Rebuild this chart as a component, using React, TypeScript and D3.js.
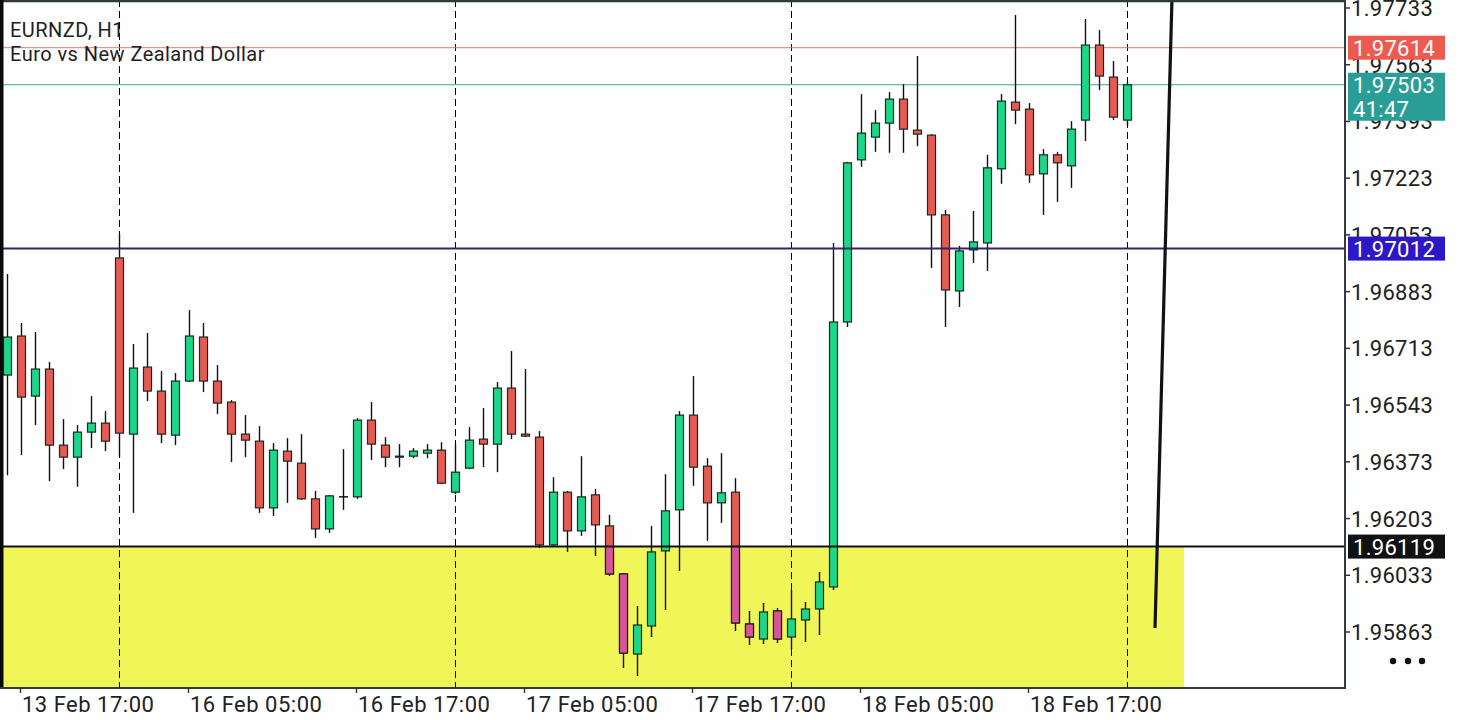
import React from "react";
import * as d3 from "d3";

const opens = [1.96633,1.96750,1.96570,1.96651,1.96423,1.96387,1.96462,1.96489,1.96984,1.96456,1.96657,1.96585,1.96453,1.96615,1.96747,1.96615,1.96552,1.96456,1.96435,1.96235,1.96405,1.96369,1.96262,1.96172,1.96268,1.96268,1.96498,1.96423,1.96390,1.96390,1.96399,1.96408,1.96282,1.96354,1.96441,1.96426,1.96594,1.96456,1.96447,1.96124,1.96282,1.96166,1.96274,1.96181,1.96037,1.95797,1.95881,1.96106,1.96229,1.96513,1.96360,1.96250,1.96282,1.95887,1.95842,1.95926,1.95848,1.95899,1.95932,1.95998,1.96792,1.97278,1.97346,1.97388,1.97460,1.97367,1.97352,1.97113,1.96885,1.97008,1.97029,1.97251,1.97451,1.97430,1.97236,1.97293,1.97260,1.97397,1.97622,1.97526,1.97397];
const highs = [1.96936,1.96789,1.96762,1.96672,1.96501,1.96483,1.96570,1.96525,1.97056,1.96726,1.96759,1.96645,1.96639,1.96828,1.96789,1.96663,1.96558,1.96513,1.96480,1.96429,1.96444,1.96456,1.96286,1.96274,1.96411,1.96504,1.96552,1.96447,1.96426,1.96414,1.96426,1.96432,1.96426,1.96477,1.96534,1.96612,1.96705,1.96651,1.96465,1.96327,1.96286,1.96390,1.96292,1.96214,1.96040,1.95941,1.96181,1.96336,1.96525,1.96630,1.96384,1.96399,1.96324,1.95926,1.95950,1.95935,1.95989,1.95953,1.96043,1.97029,1.97272,1.97475,1.97427,1.97481,1.97505,1.97589,1.97355,1.97128,1.97020,1.97125,1.97293,1.97475,1.97712,1.97448,1.97310,1.97302,1.97394,1.97700,1.97667,1.97574,1.97511];
const lows = [1.96333,1.96393,1.96483,1.96315,1.96351,1.96298,1.96414,1.96405,1.96387,1.96220,1.96555,1.96429,1.96423,1.96612,1.96582,1.96516,1.96372,1.96387,1.96220,1.96211,1.96250,1.96259,1.96145,1.96160,1.96229,1.96262,1.96378,1.96357,1.96357,1.96384,1.96384,1.96306,1.96276,1.96351,1.96357,1.96342,1.96441,1.96447,1.96115,1.96121,1.96103,1.96151,1.96091,1.96031,1.95755,1.95731,1.95848,1.95929,1.96046,1.96301,1.96136,1.96190,1.95866,1.95824,1.95827,1.95830,1.95812,1.95833,1.95854,1.95989,1.96777,1.97257,1.97302,1.97299,1.97299,1.97319,1.96954,1.96777,1.96837,1.96969,1.96945,1.97206,1.97385,1.97209,1.97113,1.97152,1.97194,1.97334,1.97487,1.97397,1.97379];
const closes = [1.96747,1.96567,1.96651,1.96423,1.96387,1.96462,1.96489,1.96435,1.96459,1.96654,1.96585,1.96456,1.96615,1.96750,1.96615,1.96549,1.96456,1.96438,1.96235,1.96408,1.96375,1.96262,1.96172,1.96271,1.96268,1.96498,1.96426,1.96387,1.96387,1.96405,1.96408,1.96309,1.96342,1.96438,1.96426,1.96594,1.96456,1.96450,1.96124,1.96282,1.96166,1.96268,1.96184,1.96037,1.95800,1.95884,1.96103,1.96226,1.96513,1.96357,1.96250,1.96280,1.95890,1.95848,1.95923,1.95842,1.95902,1.95932,1.96013,1.96792,1.97269,1.97358,1.97388,1.97460,1.97370,1.97355,1.97113,1.96888,1.97005,1.97032,1.97254,1.97454,1.97427,1.97233,1.97293,1.97269,1.97370,1.97622,1.97529,1.97406,1.97503];

const timeLabels = ["13 Feb 17:00","16 Feb 05:00","16 Feb 17:00","17 Feb 05:00","17 Feb 17:00","18 Feb 05:00","18 Feb 17:00"];
const timeLabelIndex = [1,13,25,37,49,61,73];
const separatorIndex = [8,32,56,80];
const priceTicks = [1.97733,1.97563,1.97393,1.97223,1.97053,1.96883,1.96713,1.96543,1.96373,1.96203,1.96033,1.95863];

const askPrice = 1.97614;
const bidPrice = 1.97503;
const countdown = "41:47";
const levelPurple = 1.97012;
const levelBlack = 1.96119;
const zoneTop = 1.96119;
const zoneBottom = 1.95500;
const zoneStartIndex = -2;
const zoneEndIndex = 84;
const trendStart = [82.0, 1.95875];
const trendEnd = [83.21, 1.97757];

const W = 1466, H = 720;
const PLOT_R = 1345, PLOT_B = 688;
const FONT = "Roboto, 'Noto Sans', sans-serif";
const GREEN = "#1cd68a";
const RED = "#e55a52";
const MAGENTA = "#d8559d";
const YELLOW = "#f0f558";

export default function App() {
  const x = d3.scaleLinear().domain([0, 80]).range([7, 1127]);
  const y = d3.scaleLinear().domain([1.95863, 1.97733]).range([632, 8]);
  const bw = 8;

  const candles = opens.map((o, i) => {
    const c = closes[i];
    const cx = x(i);
    const top = y(Math.max(o, c));
    const bot = y(Math.min(o, c));
    const bull = c > o;
    const doji = c === o;
    return { i, cx, top, bot, hi: y(highs[i]), lo: y(lows[i]), bull, doji };
  });

  const zoneY = y(zoneTop);
  const trendLine = d3.line<number[]>().x(d => x(d[0])).y(d => y(d[1]));

  const boxLabel = (price: number, fill: string, text: string, h = 24) => {
    const cy = y(price);
    return (
      <g>
        <rect x={1348} y={cy - 12} width={97} height={h} fill={fill} />
        <text x={1353} y={cy + 8} fill="#fff" fontSize={22} letterSpacing={0.3} fontFamily={FONT}>{text}</text>
      </g>
    );
  };

  return (
    <svg width={W} height={H} style={{ position: "absolute", left: 0, top: 0, background: "#fff" }} xmlns="http://www.w3.org/2000/svg">
      <defs>
        <clipPath id="plot"><rect x={0} y={0} width={PLOT_R} height={PLOT_B} /></clipPath>
        <clipPath id="zone"><rect x={x(zoneStartIndex)} y={zoneY} width={x(zoneEndIndex) - x(zoneStartIndex)} height={y(zoneBottom) - zoneY} /></clipPath>
      </defs>
      <rect x={0} y={0} width={W} height={H} fill="#fefefe" />
      <g clipPath="url(#plot)">
        <rect x={x(zoneStartIndex)} y={zoneY} width={x(zoneEndIndex) - x(zoneStartIndex) + 1} height={y(zoneBottom) - zoneY} fill={YELLOW} />
        {separatorIndex.map(i => (
          <line key={i} x1={x(i) + 0.5} x2={x(i) + 0.5} y1={0} y2={PLOT_B} stroke="#000" strokeWidth={1} strokeDasharray="7 4" />
        ))}
        <line x1={0} x2={PLOT_R} y1={y(askPrice)} y2={y(askPrice)} stroke="#e0796e" strokeWidth={1} />
        <line x1={0} x2={PLOT_R} y1={y(bidPrice)} y2={y(bidPrice)} stroke="#3aa59c" strokeWidth={1} />
        {candles.map(c => (
          <g key={c.i}>
            <line x1={c.cx + 0.5} x2={c.cx + 0.5} y1={c.hi} y2={c.lo} stroke="#111" strokeWidth={1.4} />
            {c.doji ? (
              <line x1={c.cx - bw / 2} x2={c.cx + bw / 2 + 1} y1={c.top} y2={c.top} stroke="#111" strokeWidth={1.5} />
            ) : (
              <rect x={c.cx - bw / 2 + 0.5} y={c.top} width={bw} height={Math.max(1, c.bot - c.top)} fill={c.bull ? GREEN : RED} stroke="#1a2a1e" strokeWidth={1.2} />
            )}
          </g>
        ))}
        <g clipPath="url(#zone)">
          {candles.filter(c => !c.bull && !c.doji && c.bot > zoneY).map(c => (
            <rect key={c.i} x={c.cx - bw / 2 + 0.5} y={c.top} width={bw} height={Math.max(1, c.bot - c.top)} fill={MAGENTA} stroke="#2a1a22" strokeWidth={1.2} />
          ))}
        </g>
        <line x1={0} x2={PLOT_R} y1={y(levelPurple)} y2={y(levelPurple)} stroke="#36216e" strokeWidth={2} />
        <line x1={0} x2={PLOT_R} y1={y(levelBlack)} y2={y(levelBlack)} stroke="#111" strokeWidth={2} />
        <path d={trendLine([trendStart, trendEnd]) || ""} stroke="#111" strokeWidth={3.2} fill="none" />
      </g>
      {/* frame */}
      <line x1={0} x2={PLOT_R} y1={1} y2={1} stroke="#2e3a3a" strokeWidth={2.5} />
      <line x1={1.75} x2={1.75} y1={0} y2={PLOT_B} stroke="#0a0a0a" strokeWidth={3.5} />
      <line x1={PLOT_R} x2={PLOT_R} y1={0} y2={PLOT_B + 1} stroke="#333a40" strokeWidth={2} />
      <line x1={0} x2={PLOT_R + 1} y1={PLOT_B} y2={PLOT_B} stroke="#333a40" strokeWidth={2} />

      {/* title */}
      <text x={10} y={37} fontSize={20} letterSpacing={0.45} fontFamily={FONT} fill="#222">EURNZD, H1</text>
      <text x={10} y={61} fontSize={20} letterSpacing={0.45} fontFamily={FONT} fill="#222">Euro vs New Zealand Dollar</text>

      {/* right axis */}
      {priceTicks.map(p => (
        <g key={p}>
          <line x1={PLOT_R} x2={PLOT_R + 5} y1={y(p)} y2={y(p)} stroke="#333" strokeWidth={1.5} />
          <text x={1351} y={y(p) + 8} fontSize={22} letterSpacing={0.3} fontFamily={FONT} fill="#222">{p.toFixed(5)}</text>
        </g>
      ))}
      {boxLabel(askPrice, "#ee5a50", askPrice.toFixed(5))}
      <g>
        <rect x={1348} y={y(bidPrice) - 12} width={97} height={48} fill="#2a9e96" />
        <text x={1353} y={y(bidPrice) + 8} fill="#fff" fontSize={22} letterSpacing={0.3} fontFamily={FONT}>{bidPrice.toFixed(5)}</text>
        <text x={1353} y={y(bidPrice) + 32} fill="#fff" fontSize={22} letterSpacing={0.3} fontFamily={FONT}>{countdown}</text>
      </g>
      {boxLabel(levelPurple, "#2c18c6", levelPurple.toFixed(5))}
      {boxLabel(levelBlack, "#111", levelBlack.toFixed(5))}
      {[1393, 1408, 1422].map(cx => <circle key={cx} cx={cx} cy={661} r={3.2} fill="#111" />)}

      {/* bottom axis */}
      {timeLabelIndex.map((idx, k) => (
        <g key={idx}>
          <line x1={x(idx) - 0.5} x2={x(idx) - 0.5} y1={PLOT_B} y2={PLOT_B + 5} stroke="#333" strokeWidth={1.5} />
          <text x={x(idx) + 1} y={712} fontSize={22} letterSpacing={0.5} fontFamily={FONT} fill="#222">{timeLabels[k]}</text>
        </g>
      ))}
    </svg>
  );
}
